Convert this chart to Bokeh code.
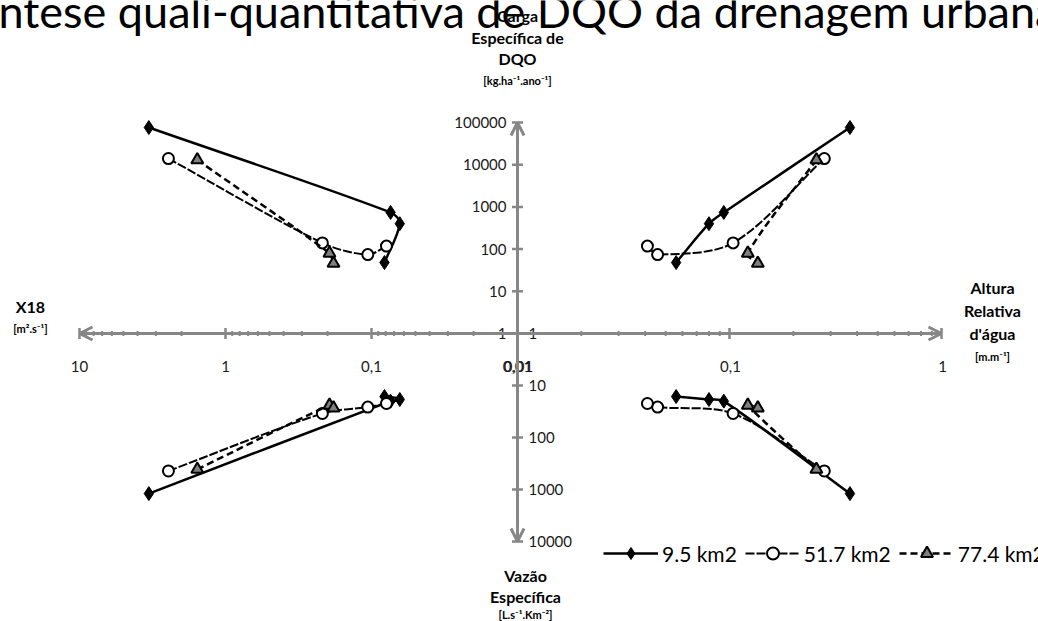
import math
from bokeh.plotting import figure
from bokeh.models import (Range1d, LogScale, Arrow, OpenHead, Label, Legend,
                          LegendItem)
from bokeh.core.properties import value
from bokeh.embed import file_html
from bokeh.resources import INLINE

# ---------------- data ----------------
series_names = ["9.5 km2", "51.7 km2", "77.4 km2"]

# X18 [m2/s], altura relativa [m/m], carga DQO [kg/ha/ano], vazao [L/s/km2]
x18_95 = [3.35, 0.074, 0.064, 0.0815]
alt_95 = [0.37, 0.094, 0.080, 0.056]
dqo_95 = [76000, 740, 400, 48]
vaz_95 = [1200, 20, 18.6, 16.3]

x18_517 = [2.46, 0.217, 0.106, 0.079]
alt_517 = [0.28, 0.104, 0.0458, 0.041]
dqo_517 = [14000, 140, 74, 118]
vaz_517 = [440, 34.5, 26, 22.2]

x18_774 = [1.56, 0.194, 0.182]
alt_774 = [0.257, 0.122, 0.136]
dqo_774 = [13000, 80, 46]
vaz_774 = [410, 24, 27]

top_ticks = [1, 10, 100, 1000, 10000, 100000]
top_labels = ["1", "10", "100", "1000", "10000", "100000"]
bottom_ticks = [1, 10, 100, 1000, 10000]
bottom_labels = ["1", "10", "100", "1000", "10000"]
left_ticks = [10, 1, 0.1, 0.01]
left_labels = ["10", "1", "0,1", "0,01"]
right_ticks = [0.01, 0.1, 1]
right_labels = ["0,01", "0,1", "1"]

title_text = "Síntese quali-quantitativa de DQO da drenagem urbana"
top_title = ["Carga", "Específica de", "DQO", "[kg.ha⁻¹.ano⁻¹]"]
bottom_title = ["Vazão", "Específica", "[L.s⁻¹.Km⁻²]"]
left_title = ["X18", "[m².s⁻¹]"]
right_title = ["Altura", "Relativa", "d'água", "[m.m⁻¹]"]

# ---------------- layout ----------------
W, H = 1038, 621
CX, CY = 517, 333                  # axes crossing (screen px)
DL, DR, DT, DB = 146.0, 212.0, 42.2, 52.0   # px per decade
FONT = "Lato"
GRAY = "#878787"

x_right = Range1d(10 ** (-2 - CX / DR), 10 ** (-2 + (W - CX) / DR))
x_left = Range1d(10 ** (-2 + CX / DL), 10 ** (-2 - (W - CX) / DL))
y_top = Range1d(10 ** (-(H - CY) / DT), 10 ** (CY / DT))
y_bot = Range1d(10 ** ((H - CY) / DB), 10 ** (-CY / DB))

p = figure(width=W, height=H, x_range=x_right, y_range=y_top,
           x_axis_type="log", y_axis_type="log",
           x_axis_location=None, y_axis_location=None,
           min_border=0, output_backend="svg", toolbar_location=None,
           outline_line_color=None, background_fill_color="white",
           border_fill_color="white")
p.grid.visible = False
p.extra_x_ranges = {"left": x_left}
p.extra_x_scales = {"left": LogScale()}
p.extra_y_ranges = {"bot": y_bot}
p.extra_y_scales = {"bot": LogScale()}

# ---------------- axes ----------------
def head():
    return OpenHead(size=13, line_width=3, line_color=GRAY)

p.add_layout(Arrow(end=head(), x_start=0.01, y_start=1, x_end=left_ticks[0], y_end=1,
                   x_range_name="left", line_color=GRAY, line_width=3))
p.add_layout(Arrow(end=head(), x_start=0.01, y_start=1, x_end=right_ticks[-1], y_end=1,
                   line_color=GRAY, line_width=3))
p.add_layout(Arrow(end=head(), x_start=0.01, y_start=1, x_end=0.01, y_end=top_ticks[-1],
                   line_color=GRAY, line_width=3))
p.add_layout(Arrow(end=head(), x_start=0.01, y_start=1, x_end=0.01, y_end=bottom_ticks[-1],
                   y_range_name="bot", line_color=GRAY, line_width=3))

minor_left = [m * 10 ** k for k in (-2, -1, 0) for m in range(2, 10)]
minor_right = [m * 10 ** k for k in (-2, -1) for m in range(2, 10)]

p.scatter(minor_left, [1] * len(minor_left), x_range_name="left", marker="dash",
          angle=math.pi / 2, size=5, line_color=GRAY, line_width=2)
p.scatter(minor_right, [1] * len(minor_right), marker="dash",
          angle=math.pi / 2, size=5, line_color=GRAY, line_width=2)
p.scatter(left_ticks[:-1], [1] * (len(left_ticks) - 1), x_range_name="left",
          marker="dash", angle=math.pi / 2, size=11, line_color=GRAY, line_width=2.5)
p.scatter(right_ticks[1:], [1] * (len(right_ticks) - 1), marker="dash",
          angle=math.pi / 2, size=11, line_color=GRAY, line_width=2.5)
p.scatter([0.01] * (len(top_ticks) - 1), top_ticks[1:], marker="dash", size=11,
          line_color=GRAY, line_width=2.5)
p.scatter([0.01] * (len(bottom_ticks) - 1), bottom_ticks[1:], y_range_name="bot",
          marker="dash", size=11, line_color=GRAY, line_width=2.5)

lab = dict(text_font=value(FONT), text_font_size="15px", text_color="#1a1a1a")
p.text([0.01] * len(top_ticks), top_ticks, text=top_labels, text_align="right",
       text_baseline="middle", x_offset=-11, **lab)
p.text([0.01] * len(bottom_ticks), bottom_ticks, text=bottom_labels, y_range_name="bot",
       text_align="left", text_baseline="middle", x_offset=11, **lab)
p.text(left_ticks, [1] * len(left_ticks), text=left_labels, x_range_name="left",
       text_align="center", text_baseline="middle", y_offset=33, **lab)
p.text(right_ticks, [1] * len(right_ticks), text=right_labels,
       text_align="center", text_baseline="middle", y_offset=33, x_offset=1, **lab)

# ---------------- series ----------------
styles = [
    dict(line=dict(line_color="black", line_width=2.5),
         mark=dict(marker="diamond", size=14, fill_color="black",
                   line_color="black", line_width=1)),
    dict(line=dict(line_color="black", line_width=2, line_dash="9 2"),
         mark=dict(marker="circle", size=11, fill_color="white", line_color="black",
                   line_width=2)),
    dict(line=dict(line_color="black", line_width=2.5, line_dash="7 4"),
         mark=dict(marker="triangle", size=12, fill_color="#7f7f7f", line_color="black",
                   line_width=2)),
]
series = [
    (x18_95, alt_95, dqo_95, vaz_95),
    (x18_517, alt_517, dqo_517, vaz_517),
    (x18_774, alt_774, dqo_774, vaz_774),
]

PX = {"left": DL, "default_x": DR, "default_y": DT, "bot": DB}


def smooth_segments(xv, yv, kx, ky, tension=0.3):
    """Smoothed connection (Bezier) with control points computed in screen-scaled log space."""
    sx = [math.log10(v) * kx for v in xv]
    sy = [math.log10(v) * ky for v in yv]
    n = len(sx)
    tang = []
    for i in range(n):
        a, b = max(i - 1, 0), min(i + 1, n - 1)
        dx, dy = sx[b] - sx[a], sy[b] - sy[a]
        norm = math.hypot(dx, dy) or 1.0
        tang.append((dx / norm, dy / norm))
    seg = {k: [] for k in ("x0", "y0", "x1", "y1", "cx0", "cy0", "cx1", "cy1")}
    for i in range(n - 1):
        L = math.hypot(sx[i + 1] - sx[i], sy[i + 1] - sy[i]) * tension
        c0 = (sx[i] + tang[i][0] * L, sy[i] + tang[i][1] * L)
        c1 = (sx[i + 1] - tang[i + 1][0] * L, sy[i + 1] - tang[i + 1][1] * L)
        seg["x0"].append(xv[i]); seg["y0"].append(yv[i])
        seg["x1"].append(xv[i + 1]); seg["y1"].append(yv[i + 1])
        seg["cx0"].append(10 ** (c0[0] / kx)); seg["cy0"].append(10 ** (c0[1] / ky))
        seg["cx1"].append(10 ** (c1[0] / kx)); seg["cy1"].append(10 ** (c1[1] / ky))
    return seg


legend_items = []
for name, (x18, alt, dqo, vaz), st in zip(series_names, series, styles):
    quads = [((x18, "left"), (dqo, "default")),
             ((alt, "default"), (dqo, "default")),
             ((x18, "left"), (vaz, "bot")),
             ((alt, "default"), (vaz, "bot"))]
    first = None
    for (xv, xr), (yv, yr) in quads:
        kx = PX["left"] if xr == "left" else PX["default_x"]
        ky = PX["bot"] if yr == "bot" else PX["default_y"]
        rl = p.bezier(x_range_name=xr, y_range_name=yr,
                      **smooth_segments(xv, yv, kx, ky), **st["line"])
        rm = p.scatter(xv, yv, x_range_name=xr, y_range_name=yr, **st["mark"])
        if first is None:
            first = [rl, rm]
    legend_items.append(LegendItem(label=name, renderers=first))

legend = Legend(items=legend_items, orientation="horizontal",
                location=(603, H - 553 - 15),
                glyph_width=55, glyph_height=30, label_standoff=4, spacing=8,
                padding=0, margin=0, border_line_color=None,
                background_fill_alpha=0, label_text_font=FONT,
                label_text_font_size="21px", label_text_color="black",
                label_height=30)
p.add_layout(legend)

# ---------------- texts ----------------
def put(text, x, y, size, bold=True, align="center", baseline="middle"):
    p.add_layout(Label(x=x, y=H - y, x_units="screen", y_units="screen",
                       text=text, text_font=FONT, text_font_size=size,
                       text_font_style="bold" if bold else "normal",
                       text_align=align, text_baseline=baseline, text_color="black"))

put(title_text, -37, 10, "45px", bold=False, align="left", baseline="alphabetic")

for t, y in zip(top_title, [15, 37, 58, 80]):
    put(t, 517, y, "11px" if t.startswith("[") else "16px")
for t, y in zip(bottom_title, [575, 596, 614]):
    put(t, 525, y, "11px" if t.startswith("[") else "16px")
for t, y in zip(left_title, [306, 328]):
    put(t, 30, y, "11px" if t.startswith("[") else "16px")
for t, y in zip(right_title, [287, 310, 333, 356]):
    put(t, 992, y, "11px" if t.startswith("[") else "16px")

open("out.html", "w").write(file_html(p, INLINE))
